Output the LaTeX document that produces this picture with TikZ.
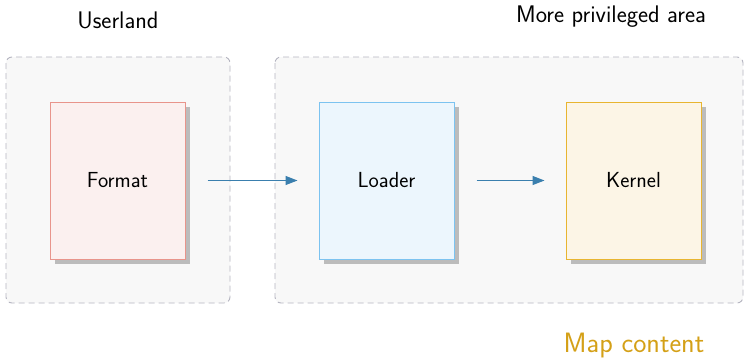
\documentclass[tikz,border=0pt]{standalone}
\usetikzlibrary{arrows.meta,shadows}
\definecolor{grpfill}{HTML}{F8F8F8}
\definecolor{grpdraw}{HTML}{B4B4C0}
\definecolor{fmtfill}{HTML}{FBF0EF}
\definecolor{fmtdraw}{HTML}{E8948B}
\definecolor{ldrfill}{HTML}{ECF6FD}
\definecolor{ldrdraw}{HTML}{7CC3F0}
\definecolor{krnfill}{HTML}{FCF5E6}
\definecolor{krndraw}{HTML}{E8B530}
\definecolor{arrcol}{HTML}{3A7FAE}
\definecolor{mapcol}{HTML}{D4A017}
\definecolor{shadowcol}{HTML}{BCBCBC}
\tikzset{
  group/.style={draw=grpdraw, fill=grpfill, dash pattern=on 6pt off 4pt, line width=0.9pt, rounded corners=6pt},
  box/.style={rectangle, minimum width=135pt, minimum height=157pt, line width=1pt, inner sep=0pt,
    font=\sffamily\fontsize{21.8}{24}\selectfont,
    drop shadow={shadow xshift=5pt, shadow yshift=-5pt, fill=shadowcol, opacity=1}},
  lbl/.style={font=\sffamily\fontsize{24}{27}\selectfont, inner sep=0pt},
  conn/.style={draw=arrcol, line width=1.2pt, -{Triangle[length=12pt,width=9pt]}, shorten <=22pt, shorten >=21pt},
}
\begin{document}
\begin{tikzpicture}[x=1pt,y=-1pt]
\useasboundingbox (0,0) rectangle (744,359);
\path[group] (6,57) rectangle (230,303);
\path[group] (275,57) rectangle (743,303);
\node[box, draw=fmtdraw, fill=fmtfill] (format) at (117.5,180.5) {Format};
\node[box, draw=ldrdraw, fill=ldrfill] (loader) at (386.5,180.5) {Loader};
\node[box, draw=krndraw, fill=krnfill] (kernel) at (633.5,180.5) {Kernel};
\draw[conn] (format) -- (loader);
\draw[conn] (loader) -- (kernel);
\node[lbl] (userland) at (118,20) {Userland};
\node[lbl] (priv) at (611,17) {More privileged area};
\node[lbl, text=mapcol, font=\sffamily\fontsize{28}{31}\selectfont] (map) at (634,346) {Map content};
\end{tikzpicture}
\end{document}
